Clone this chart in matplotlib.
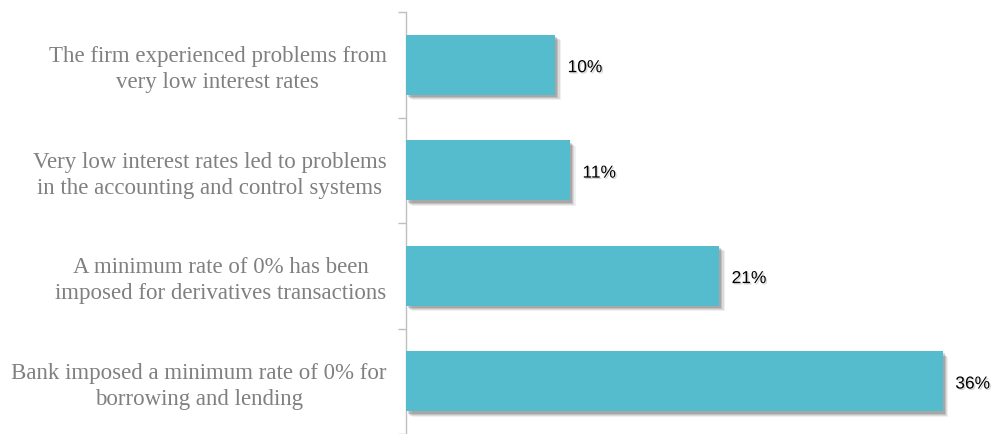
import matplotlib
matplotlib.use("Agg")
import matplotlib.pyplot as plt
import matplotlib.patheffects as pe
import numpy as np

categories = [
    "Bank imposed a minimum rate of 0% for\nborrowing and lending",
    "A minimum rate of 0% has been\nimposed for derivatives transactions",
    "Very low interest rates led to problems\nin the accounting and control systems",
    "The firm experienced problems from\nvery low interest rates",
]
values = [36, 21, 11, 10]
value_labels = ["36%", "21%", "11%", "10%"]

bar_color = "#55bccd"
text_grey = "#808080"

fig = plt.figure(figsize=(9.95, 4.34), dpi=100)
ax = fig.add_axes([0.408, 0.0, 0.592, 0.972])

y = np.arange(len(categories))
bars = ax.barh(y, values, height=0.57, color=bar_color, zorder=3)

# soft drop shadow built from several faint offset copies
shadow = [pe.SimplePatchShadow(offset=(d, -d), shadow_rgbFace="#404040", alpha=a)
          for d, a in [(4.0, 0.08), (3.2, 0.12), (2.4, 0.16), (1.6, 0.2)]]
shadow.append(pe.Normal())
for b in bars:
    b.set_path_effects(shadow)

for yi, v, lab in zip(y, values, value_labels):
    ax.annotate(lab, xy=(v, yi), xytext=(9, -2), textcoords="offset points",
                va="center", ha="left", fontsize=12.5, family="Liberation Sans",
                color="black", annotation_clip=False,
                path_effects=[pe.withSimplePatchShadow(offset=(1, -1), shadow_rgbFace="#aaaaaa", alpha=0.5)])

ax.set_xlim(0, 39.5)
ax.set_ylim(-0.5, 3.5)

ax.set_yticks(y)
ax.set_yticklabels(categories, family="Liberation Serif", fontsize=16.5,
                   color=text_grey, multialignment="center", linespacing=1.3)
ax.tick_params(axis="y", which="major", length=0, pad=14)
ax.set_yticks(np.arange(-0.5, 3.6, 1.0), minor=True)
ax.tick_params(axis="y", which="minor", length=6, color="#bfbfbf", width=1)
ax.set_xticks([])

for s in ["top", "right", "bottom"]:
    ax.spines[s].set_visible(False)
ax.spines["left"].set_color("#bfbfbf")
ax.spines["left"].set_linewidth(1)

fig.savefig("out.png", dpi=100)
